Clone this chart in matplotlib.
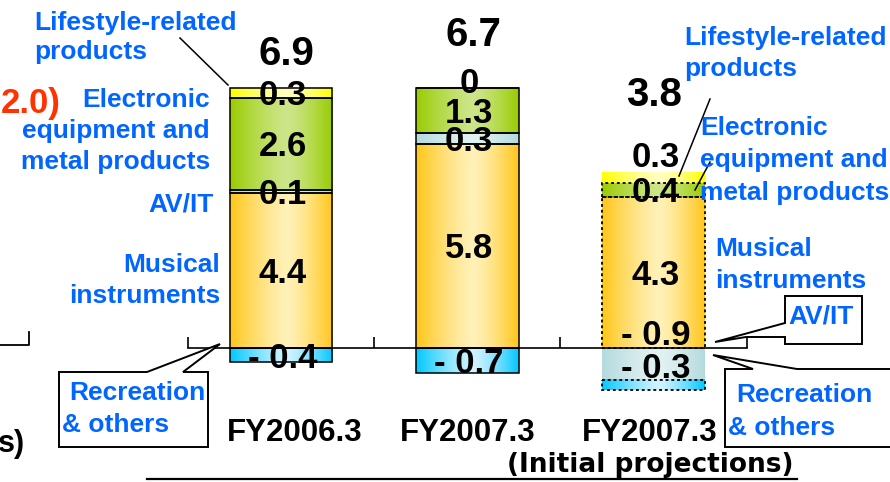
import numpy as np
import matplotlib
matplotlib.use("Agg")
import matplotlib.pyplot as plt
from matplotlib.colors import to_rgb
from matplotlib.patches import Polygon
from matplotlib.transforms import Affine2D

plt.rcParams["font.family"] = ["Liberation Sans", "DejaVu Sans"]
plt.rcParams["font.weight"] = "bold"

# values (billions of yen)
categories = ["FY2006.3", "FY2007.3", "FY2007.3"]
sub_label = "(Initial projections)"
segments = ["musical", "avit", "electronic", "lifestyle", "recreation"]
musical = [4.4, 5.8, 4.3]
av_it = [0.1, 0.3, -0.9]
electronic = [2.6, 1.3, 0.4]
lifestyle = [0.3, 0.0, 0.3]
recreation = [-0.4, -0.7, -0.3]
totals = [6.9, 6.7, 3.8]

# (edge colour, centre colour) of the horizontal gradient
grad = {
    "musical": ("#ffc61a", "#fff1b8"),
    "avit": ("#b4dade", "#e2f2f2"),
    "electronic": ("#99cc00", "#cde68a"),
    "lifestyle": ("#ffff00", "#ffffc0"),
    "recreation": ("#00c8ff", "#d0f3ff"),
}
BLUE = "#0066ff"

W, H = 890, 482
fig = plt.figure(figsize=(W / 100, H / 100), dpi=100)
ax = fig.add_axes([0, 0, 1, 1])
ax.set_axis_off()
# pixel transform (y down) for the slide furniture
pix = Affine2D().scale(1 / W, -1 / H).translate(0, 1) + fig.transFigure

PXU = 35.2          # pixels per unit on the value axis
BASE = 348          # pixel row of the zero line
XU = 186.25         # pixels per category step
X0 = 281            # pixel column of first bar centre


def fill_gradient(patch, edge, mid, peak=0.56):
    x0, y0 = patch.get_x(), patch.get_y()
    w, h = patch.get_width(), patch.get_height()
    if h == 0:
        return
    t = np.linspace(0, 1, 200)
    d = np.where(t < peak, (peak - t) / peak, (t - peak) / (1 - peak)) ** 1.3
    e, m = np.array(to_rgb(edge)), np.array(to_rgb(mid))
    img = m + (e - m) * d[:, None]
    ax.imshow(img[None, :, :], extent=(x0, x0 + w, min(y0, y0 + h), max(y0, y0 + h)),
              aspect="auto", zorder=2, interpolation="bilinear")


def fmt(v):
    if v < 0:
        return f"- {abs(v):.1f}"
    if v == 0:
        return "0"
    return f"{v:.1f}"


# label nudges (units) for the thin segments
nudge = {(1, "lifestyle"): 0.21, (2, "lifestyle"): 0.65, (2, "avit"): 0.9, (2, "recreation"): 0.55}

x = np.arange(len(categories))
width = 0.553
pos = np.zeros(len(x))
neg = np.zeros(len(x))
series = [musical, av_it, electronic, lifestyle, recreation]
for name, vals in zip(segments, series):
    vals = np.array(vals, dtype=float)
    bottom = np.where(vals >= 0, pos, neg)
    bars = ax.bar(x, vals, width, bottom=bottom, facecolor="none",
                  edgecolor="black", linewidth=1.1, zorder=3)
    for i, b in enumerate(bars):
        fill_gradient(b, *grad[name])
        if i == 2:
            if name in ("lifestyle", "avit"):
                b.set_edgecolor("none")
            else:
                b.set_linestyle((0, (1.6, 1.6)))
                b.set_linewidth(1.3)
        yc = bottom[i] + vals[i] / 2 - 12.5 / PXU + nudge.get((i, name), 0)
        ax.text(x[i] + 0.01, yc, fmt(vals[i]), ha="center", va="baseline",
                fontsize=25, zorder=6)
    pos = pos + np.where(vals >= 0, vals, 0)
    neg = neg + np.where(vals < 0, vals, 0)

# totals above the stacks
total_gap = [0.65, 1.19, 1.88]
total_dx = [0.03, 0.035, 0.0]
for i, t in enumerate(totals):
    ax.text(x[i] + total_dx[i], pos[i] + total_gap[i], f"{t:.1f}", ha="center",
            va="baseline", fontsize=29, zorder=6)

# zero line with category ticks
edges = np.arange(len(x) + 1) - 0.5
ax.plot([edges[0], edges[-1]], [0, 0], color="black", lw=1.2, zorder=4)
ax.vlines(edges, 0, 0.31, color="black", lw=1.2, zorder=4)

# category labels
cat_dx = [0.075, 0.0, -0.02]
for i, c in enumerate(categories):
    ax.text(x[i] + cat_dx[i], -2.65, c, ha="center", va="baseline", fontsize=22.5)
ax.text(x[2] - 0.02, -3.52, sub_label, ha="center", va="baseline", fontsize=19,
        family="DejaVu Sans")
ax.plot([147, 797], [479, 479], color="black", lw=1.6, transform=pix)

# callout boxes
callouts = [
    [(59, 372), (147, 372), (220, 344), (183, 372), (208, 372), (208, 447), (59, 447)],
    [(785, 296), (862, 296), (862, 344), (785, 344), (785, 337), (746, 337), (715, 342), (785, 323)],
    [(725, 369), (753, 369), (713, 355), (797, 369), (900, 369), (900, 447), (725, 447)],
]
for pts in callouts:
    ax.add_patch(Polygon(pts, closed=True, facecolor="white", edgecolor="black",
                         lw=1.4, transform=pix, zorder=5))

# leader lines
for (xa, ya), (xb, yb) in [((180, 38), (228, 85)), ((710, 99), (679, 176)), ((710, 162), (695, 190))]:
    ax.plot([xa, xb], [ya, yb], color="black", lw=1.1, transform=pix, zorder=5)

# segment names, left of the first bar
left_labels = [
    ("Lifestyle-related", 34, 30, "left"), ("products", 34, 59, "left"),
    ("Electronic", 210, 107, "right"), ("equipment and", 210, 138, "right"),
    ("metal products", 210, 169, "right"),
    ("AV/IT", 214, 212, "right"),
    ("Musical", 220, 272, "right"), ("instruments", 220, 303, "right"),
    ("Recreation", 69, 400, "left"), ("& others", 62, 432, "left"),
]
right_labels = [
    ("Lifestyle-related", 684, 45, "left"), ("products", 684, 76, "left"),
    ("Electronic", 700, 135, "left"), ("equipment and", 700, 167, "left"),
    ("metal products", 700, 200, "left"),
    ("Musical", 715, 256, "left"), ("instruments", 715, 288, "left"),
    ("AV/IT", 821, 323, "center"),
    ("Recreation", 736, 402, "left"), ("& others", 728, 435, "left"),
]
for s, px_, py_, ha in left_labels + right_labels:
    ax.text(px_, py_, s, ha=ha, va="baseline", fontsize=19, color=BLUE,
            transform=pix, zorder=7)

# bits of the slide cut off at the left edge
ax.text(1, 113, "2.0)", ha="left", va="baseline", fontsize=25, color="#ff3300", transform=pix)
ax.text(25, 452, "s)", ha="right", va="baseline", fontsize=22, transform=pix)
ax.plot([0, 29, 29], [345, 345, 332], color="black", lw=1.3, transform=pix)

ax.set_xlim(-X0 / XU, (W - X0) / XU)
ax.set_ylim(-(H - BASE) / PXU, BASE / PXU)

fig.savefig("out.png", dpi=100)
